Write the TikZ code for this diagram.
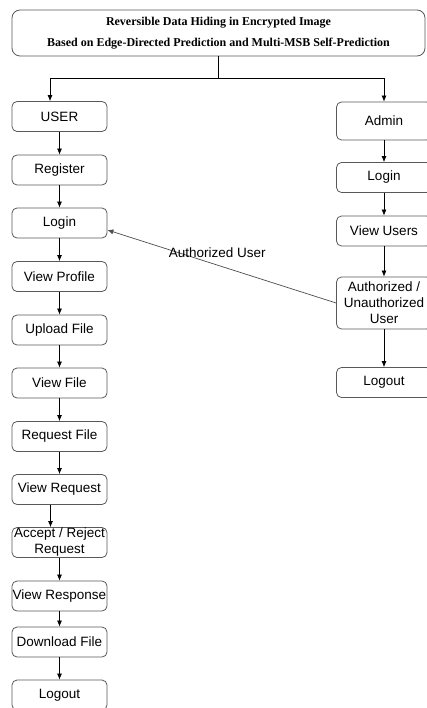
\documentclass[tikz,border=0pt]{standalone}
\usepackage{fontspec}
\setmainfont{Liberation Sans}
\newfontfamily\titlefont{Liberation Serif}
\usetikzlibrary{arrows.meta}

\tikzset{
  box/.style={draw=black!65, rounded corners=5pt, minimum width=95pt,
    minimum height=30pt, inner sep=0pt, align=center,
    font=\fontsize{13.5}{16}\selectfont, line width=0.8pt},
  arr/.style={-{Latex[length=6pt,width=5pt]}, line width=0.7pt},
}

\begin{document}
\begin{tikzpicture}[x=1pt,y=-1pt]
            \useasboundingbox (0,0) rectangle (427,708);
            \node[box, minimum width=413pt, minimum height=46pt, rounded corners=8pt,
                font=\titlefont\bfseries\fontsize{12}{21}\selectfont] (title) at (218.5,33)
                {Reversible Data Hiding in Encrypted Image\\Based on Edge-Directed Prediction and Multi-MSB Self-Prediction};
            % user side
            \foreach \n/\y/\t in {1/116.5/USER, 2/170/Register, 3/223/Login, 4/276.5/View Profile,
                5/330/Upload File, 6/383/View File, 7/436.5/Request File, 8/489.5/View Request,
                9/542.5/{Accept / Reject\\Request}, 10/596/View Response, 11/642/Download File, 12/695/Logout}{
                \node[box] (u\n) at (59.5,\y) {\t};
            }
            \foreach \a in {1,...,7,9,10,11}{
                \pgfmathtruncatemacro{\b}{\a+1}
                \draw[arr] (u\a.south) -- (u\b.north);
            }
            \draw[arr] ([xshift=-9pt]u8.south) -- ([xshift=-9pt]u9.north);
            % admin side
            \foreach \n/\y/\h/\t in {1/121/38/Admin, 2/177.5/30/Login, 3/231/30/View Users,
                4/303/52/{Authorized /\\Unauthorized\\User}, 5/382.5/30/Logout}{
                \node[box, minimum height=\h pt] (a\n) at (384,\y) {\t};
            }
            \foreach \a in {1,...,4}{
                \pgfmathtruncatemacro{\b}{\a+1}
                \draw[arr] (a\a.south) -- (a\b.north);
            }
            % split below the title
            \coordinate (split) at ([yshift=-22pt]title.south);
            \draw[line width=0.8pt] (title.south) -- (split);
            \draw[arr] (split) -| ([xshift=-9.5pt]u1.north);
            \draw[arr] (split) -| (a1.north);
            \draw[arr, draw=black!70] (a4.west) -- ([yshift=-7pt]u3.east)
                node[pos=0.52, yshift=12pt, text=black, font=\fontsize{13.5}{16}\selectfont] {Authorized User};
\end{tikzpicture}
\end{document}
